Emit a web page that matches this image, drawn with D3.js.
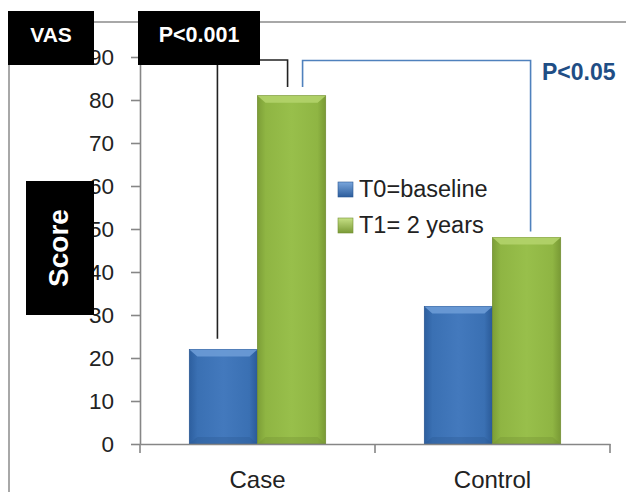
<!DOCTYPE html>
<html>
<head>
<meta charset="utf-8">
<script src="https://cdn.jsdelivr.net/npm/d3@7"></script>
<style>
  body { margin: 0; background: #fff; }
  text { font-family: "Liberation Sans", Arial, sans-serif; }
</style>
</head>
<body>
<div id="chart"></div>
<script>
// data
var categories = ["Case", "Control"];
var series = ["T0=baseline", "T1= 2 years"];
var t0Values = [22, 32];
var t1Values = [81, 48];
var yTicks = [0, 10, 20, 30, 40, 50, 60, 70, 80, 90];

var width = 626, height = 492;
var margin = { top: 57, right: 16, bottom: 48, left: 140 };

var svg = d3.select("#chart").append("svg")
  .attr("width", width)
  .attr("height", height);

var defs = svg.append("defs");
function grad(id, stops, horiz) {
  var g = defs.append("linearGradient").attr("id", id)
    .attr("x1", 0).attr("y1", 0)
    .attr("x2", horiz ? 1 : 0).attr("y2", horiz ? 0 : 1);
  stops.forEach(function (s) {
    g.append("stop").attr("offset", s[0]).attr("stop-color", s[1]);
  });
}
grad("gBlue", [[0, "#2d5f9f"], [0.12, "#3a70b3"], [0.5, "#4379bd"], [0.88, "#3a70b3"], [1, "#2a5a98"]], true);
grad("gGreen", [[0, "#7c9e37"], [0.12, "#8fb543"], [0.5, "#98bf4b"], [0.88, "#8fb543"], [1, "#799a35"]], true);
grad("lBlue", [[0, "#7aa6dc"], [1, "#2c5d9c"]], false);
grad("lGreen", [[0, "#c6e085"], [1, "#7a9a36"]], false);

var fills = ["url(#gBlue)", "url(#gGreen)"];
var tops = ["#6c9bd6", "#b3d36a"];
var edges = ["#2b5893", "#748f34"];

// scales
var yScale = d3.scaleLinear().domain([0, 90]).range([height - margin.bottom, margin.top]);
var xScale = d3.scaleBand().domain(categories).range([margin.left, width - margin.right])
  .paddingInner(0).paddingOuter(0);
var groupW = xScale.bandwidth() * 0.58;
var x1 = d3.scaleBand().domain(series).range([0, groupW]);

// outer frame (top + left)
svg.append("path")
  .attr("d", "M9," + height + "V22H" + width)
  .attr("fill", "none").attr("stroke", "#8c8c8c").attr("stroke-width", 1.5);

// bars
var rows = [];
categories.forEach(function (c, i) {
  rows.push({ cat: c, s: 0, v: t0Values[i] });
  rows.push({ cat: c, s: 1, v: t1Values[i] });
});

var barX = function (d) {
  return xScale(d.cat) + (xScale.bandwidth() - groupW) / 2 + x1(series[d.s]);
};

var bars = svg.append("g").selectAll("g").data(rows).enter().append("g");
bars.append("rect")
  .attr("x", barX)
  .attr("y", function (d) { return yScale(d.v); })
  .attr("width", x1.bandwidth())
  .attr("height", function (d) { return yScale(0) - yScale(d.v); })
  .attr("fill", function (d) { return fills[d.s]; })
  .attr("stroke", function (d) { return edges[d.s]; })
  .attr("stroke-width", 0.8);
// top bevel
bars.append("path")
  .attr("d", function (d) {
    var x0 = barX(d), w = x1.bandwidth(), y0 = yScale(d.v);
    return "M" + x0 + "," + y0 + "H" + (x0 + w) + "L" + (x0 + w - 8) + "," + (y0 + 7) +
      "H" + (x0 + 8) + "Z";
  })
  .attr("fill", function (d) { return tops[d.s]; })
  .attr("opacity", 0.9);
// bottom bevel
bars.append("path")
  .attr("d", function (d) {
    var x0 = barX(d), w = x1.bandwidth(), y0 = yScale(0);
    return "M" + x0 + "," + y0 + "H" + (x0 + w) + "L" + (x0 + w - 8) + "," + (y0 - 7) +
      "H" + (x0 + 8) + "Z";
  })
  .attr("fill", function (d) { return edges[d.s]; })
  .attr("opacity", 0.35);

// y axis
var yAxis = d3.axisLeft(yScale).tickValues(yTicks).tickSize(9).tickSizeOuter(0).tickPadding(17);
var yAxisG = svg.append("g")
  .attr("transform", "translate(" + margin.left + ",0)")
  .call(yAxis);
yAxisG.selectAll("path, line").attr("stroke", "#868686").attr("stroke-width", 1.6);
yAxisG.selectAll("text").attr("font-size", 22.5).attr("fill", "#222")
  .style("font-family", "'Liberation Sans', Arial, sans-serif");

// x axis
var xAxis = d3.axisBottom(xScale).tickSize(0).tickSizeOuter(0).tickPadding(27);
var xAxisG = svg.append("g")
  .attr("transform", "translate(0," + yScale(0) + ")")
  .call(xAxis);
xAxisG.select("path").attr("stroke", "#868686").attr("stroke-width", 1.6);
xAxisG.selectAll("text").attr("font-size", 24).attr("fill", "#222")
  .style("font-family", "'Liberation Sans', Arial, sans-serif");
var bounds = categories.map(function (c) { return xScale(c); }).concat([xScale.range()[1]]);
xAxisG.selectAll("line.bound").data(bounds).enter().append("line")
  .attr("class", "bound")
  .attr("x1", function (d) { return d; }).attr("x2", function (d) { return d; })
  .attr("y1", 0).attr("y2", 9)
  .attr("stroke", "#868686").attr("stroke-width", 1.6);

// legend
var legend = svg.append("g").attr("transform", "translate(338,182)");
var legRows = legend.selectAll("g").data(series).enter().append("g")
  .attr("transform", function (d, i) { return "translate(0," + i * 36 + ")"; });
legRows.append("rect")
  .attr("width", 15).attr("height", 15)
  .attr("fill", function (d, i) { return i ? "url(#lGreen)" : "url(#lBlue)"; })
  .attr("stroke", function (d, i) { return edges[i]; }).attr("stroke-width", 0.6);
legRows.append("text")
  .attr("x", 21).attr("y", 15)
  .attr("font-size", 23.5).attr("fill", "#222")
  .text(function (d) { return d; });

// significance brackets
var caseT0 = barX(rows[0]) + x1.bandwidth() / 2;
var caseT1 = barX(rows[1]) + x1.bandwidth() / 2;
var ctrlT1 = barX(rows[3]) + x1.bandwidth() / 2;
svg.append("path")
  .attr("d", "M" + (caseT0 - 6) + "," + yScale(t0Values[0] + 2.5) + "V" + yScale(89.3) +
    "H" + (caseT1 - 4) + "V" + yScale(t1Values[0] + 2))
  .attr("fill", "none").attr("stroke", "#222").attr("stroke-width", 1.6);
svg.append("path")
  .attr("d", "M" + (caseT1 + 11) + "," + yScale(t1Values[0] + 2) + "V" + yScale(89.2) +
    "H" + (ctrlT1 + 4) + "V" + yScale(t1Values[1] + 1.4))
  .attr("fill", "none").attr("stroke", "#4f81bd").attr("stroke-width", 1.6);
svg.append("text")
  .attr("x", 542).attr("y", 80)
  .attr("font-size", 23).attr("font-weight", "bold").attr("fill", "#1f4e85")
  .text("P<0.05");

// black label boxes
var boxes = [
  { x: 8, y: 11, w: 86, h: 54, label: "VAS", size: 21, rot: false },
  { x: 138, y: 11, w: 122, h: 54, label: "P<0.001", size: 21.5, rot: false },
  { x: 26, y: 181, w: 68, h: 134, label: "Score", size: 28, rot: true }
];
var bx = svg.append("g").selectAll("g").data(boxes).enter().append("g");
bx.append("rect")
  .attr("x", function (d) { return d.x; }).attr("y", function (d) { return d.y; })
  .attr("width", function (d) { return d.w; }).attr("height", function (d) { return d.h; })
  .attr("fill", "#000");
bx.append("text")
  .attr("transform", function (d) {
    if (d.rot) return "translate(" + (d.x + d.w / 2 - 2) + "," + (d.y + d.h / 2) + ") rotate(-90)";
    return "translate(" + (d.x + d.w / 2) + "," + (d.y + 16) + ")";
  })
  .attr("text-anchor", "middle")
  .attr("dy", function (d) { return d.rot ? "0.36em" : "0.71em"; })
  .attr("font-size", function (d) { return d.size; })
  .attr("font-weight", "bold").attr("fill", "#fff")
  .text(function (d) { return d.label; });
</script>
</body>
</html>
